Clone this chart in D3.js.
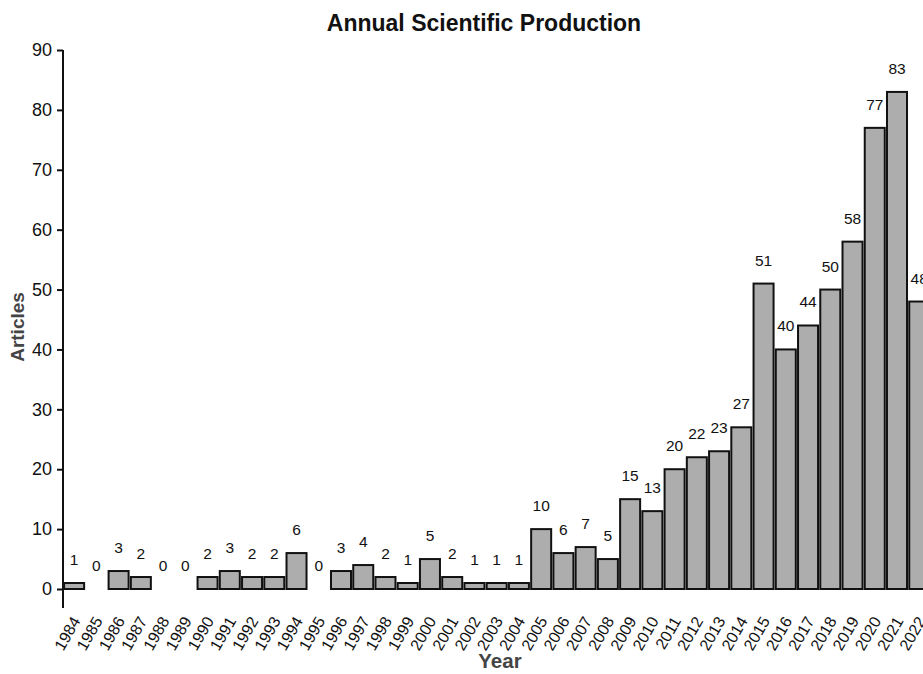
<!DOCTYPE html>
<html><head><meta charset="utf-8">
<script src="https://cdn.jsdelivr.net/npm/d3@7"></script>
<style>body{margin:0;background:#fff}svg{display:block}text{font-family:"Liberation Sans",Arial,sans-serif}</style>
</head><body>
<script>
const years = ["1984","1985","1986","1987","1988","1989","1990","1991","1992","1993","1994","1995","1996","1997","1998","1999","2000","2001","2002","2003","2004","2005","2006","2007","2008","2009","2010","2011","2012","2013","2014","2015","2016","2017","2018","2019","2020","2021","2022"];
const articles = [1,0,3,2,0,0,2,3,2,2,6,0,3,4,2,1,5,2,1,1,1,10,6,7,5,15,13,20,22,23,27,51,40,44,50,58,77,83,48];
const yTicks = [0,10,20,30,40,50,60,70,80,90];

const W = 923, H = 674;
const svg = d3.select("body").append("svg").attr("width", W).attr("height", H);
const x = d3.scaleBand().domain(years).range([63, 63 + 39 * 22.24]).paddingInner(0.1).paddingOuter(0.05);
const y = d3.scaleLinear().domain([0, 90]).range([589, 50]);

// bars
svg.append("g").selectAll("rect").data(years).join("rect")
  .attr("x", d => x(d)).attr("width", x.bandwidth())
  .attr("y", (d, i) => y(articles[i])).attr("height", (d, i) => y(0) - y(articles[i]))
  .attr("fill", "#adadad").attr("stroke", "#111").attr("stroke-width", 2);

// value labels
svg.append("g").selectAll("text").data(years).join("text")
  .attr("x", d => x(d) + x.bandwidth() / 2)
  .attr("y", (d, i) => y(articles[i]) - 18)
  .attr("text-anchor", "middle").attr("font-size", 15.5).attr("fill", "#111")
  .text((d, i) => articles[i]);

// y axis
const ya = svg.append("g").attr("transform", "translate(63,0)")
  .call(d3.axisLeft(y).tickValues(yTicks).tickSize(6).tickPadding(5));
ya.select(".domain").remove();
ya.append("line").attr("x1", 0).attr("x2", 0).attr("y1", y(90)).attr("y2", 608).attr("stroke", "#111").attr("stroke-width", 2);
ya.selectAll(".tick line").attr("stroke", "#111").attr("stroke-width", 2);
ya.selectAll(".tick text").attr("font-size", 18).attr("fill", "#111").style("font-family", '"Liberation Sans",Arial,sans-serif');

// x tick labels
svg.append("g").selectAll("text").data(years).join("text")
  .attr("transform", d => `translate(${x(d) + x.bandwidth() / 2 + 2},${618}) rotate(-60)`)
  .attr("text-anchor", "end").attr("dy", "0.35em").attr("font-size", 16).attr("fill", "#111")
  .text(d => d);

// titles
svg.append("text").attr("x", 484).attr("y", 31).attr("text-anchor", "middle")
  .attr("font-size", 23).attr("font-weight", "bold").attr("fill", "#111").text("Annual Scientific Production");
svg.append("text").attr("x", 500).attr("y", 668).attr("text-anchor", "middle")
  .attr("font-size", 20.5).attr("font-weight", "bold").attr("fill", "#444").text("Year");
svg.append("text").attr("transform", "translate(24,327) rotate(-90)").attr("text-anchor", "middle")
  .attr("font-size", 19).attr("font-weight", "bold").attr("fill", "#444").text("Articles");
</script>
</body></html>
